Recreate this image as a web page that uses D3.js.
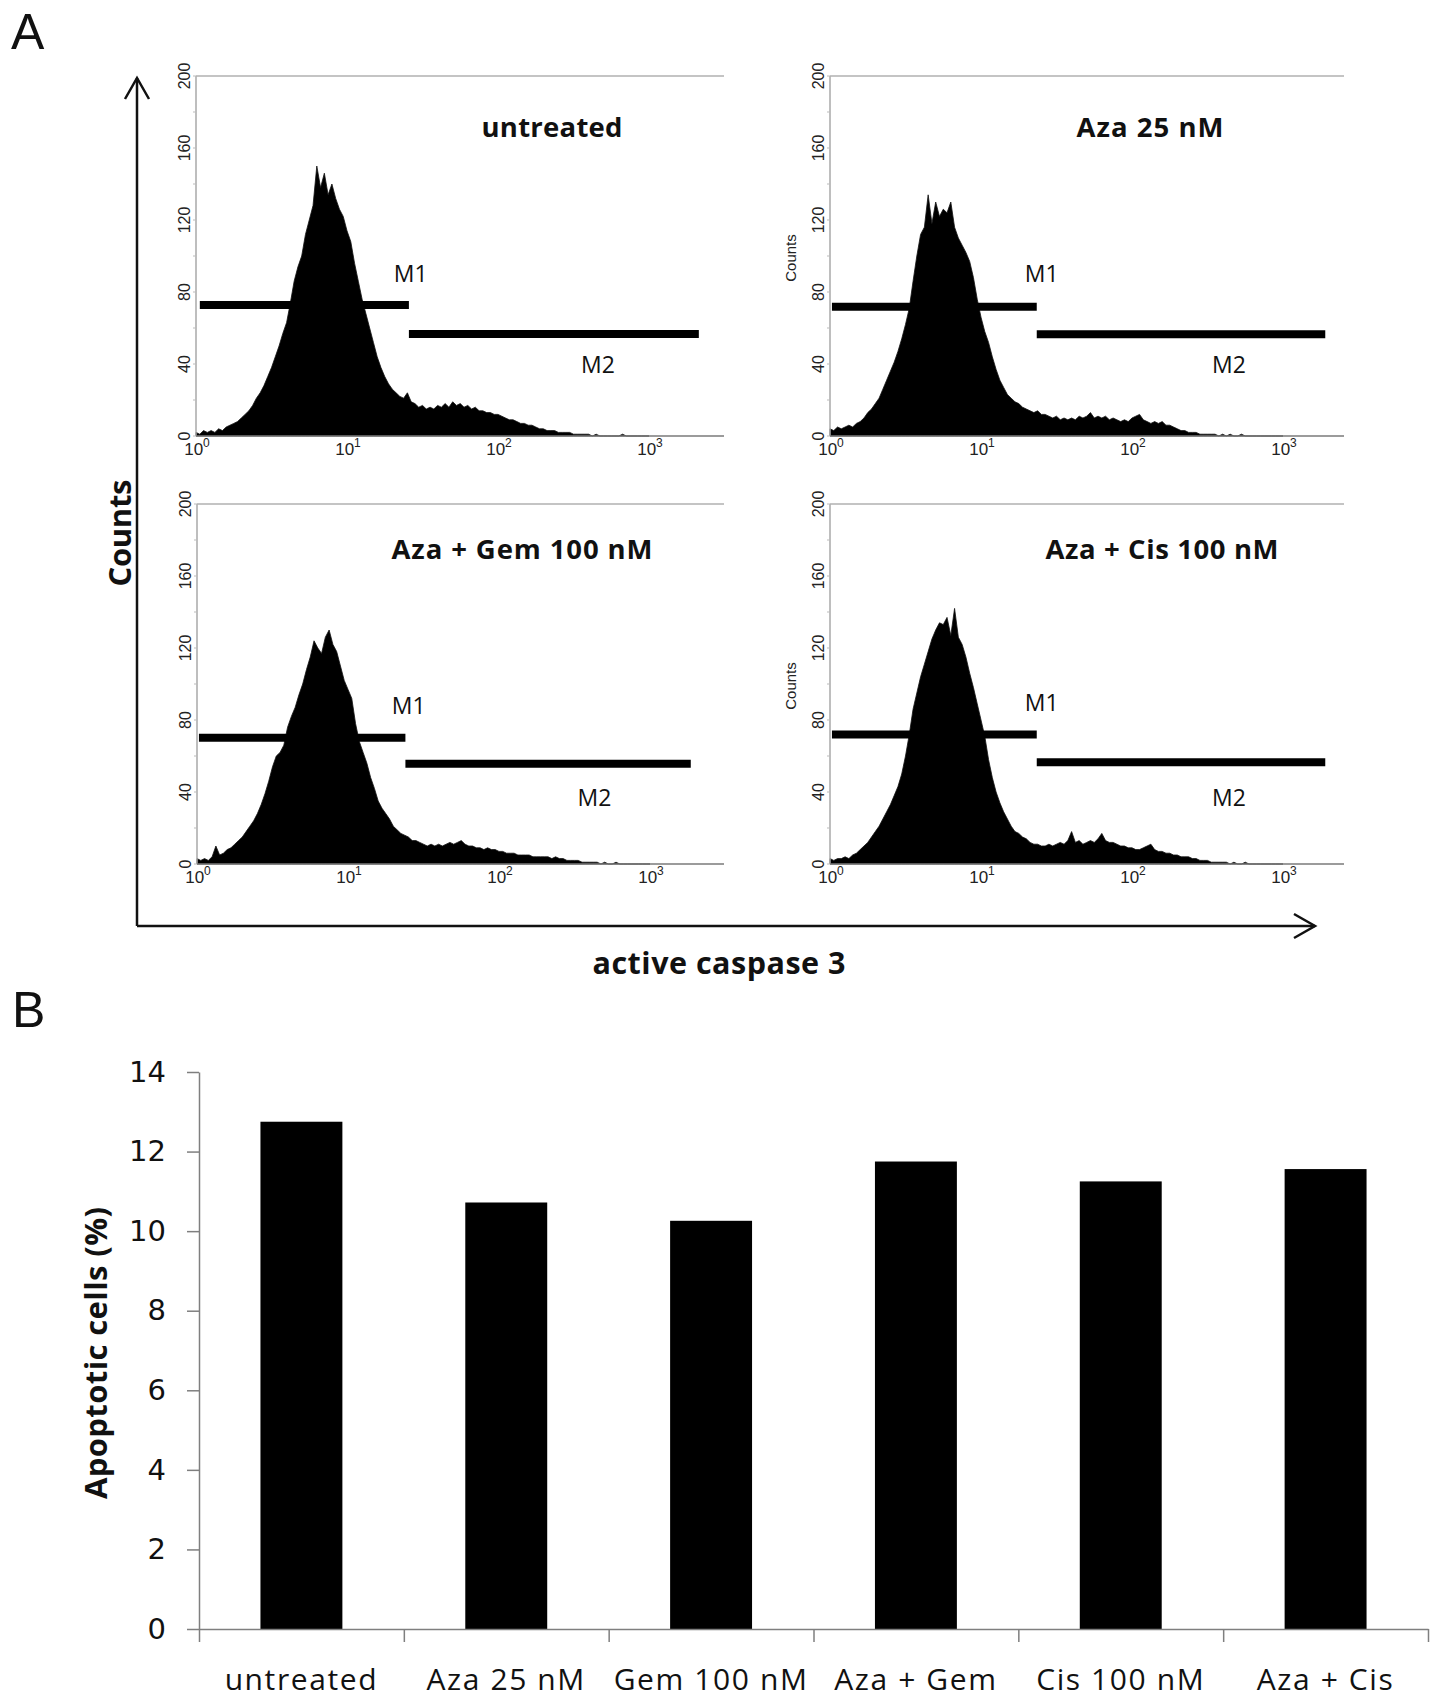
<!DOCTYPE html>
<html>
<head>
<meta charset="utf-8">
<script src="https://cdn.jsdelivr.net/npm/d3@7"></script>
<style>
  html, body { margin: 0; padding: 0; background: #fff; }
  svg { display: block; }
</style>
</head>
<body>
<svg id="chart" width="1441" height="1703"></svg>
<script>
// ---------------- DATA ----------------
// Flow cytometry histograms: counts per channel, channels spaced 0.025 decades from 10^0
const binStepLog = 0.025;
const panelTitles = ["untreated", "Aza 25 nM", "Aza + Gem 100 nM", "Aza + Cis 100 nM"];

const countsUntreated = [
  2,1,3,2,3,2,4,3,5,6,
  7,8,10,12,14,17,21,24,28,33,
  38,44,50,57,63,74,86,94,100,112,
  120,128,150,138,146,134,140,132,126,122,
  114,108,96,86,76,68,60,52,44,38,
  33,29,26,24,22,21,24,19,18,16,
  17,15,16,15,17,16,18,16,19,17,
  18,16,17,15,16,14,14,13,13,12,
  12,11,10,9,9,8,7,7,6,6,
  5,4,4,3,3,3,2,2,2,2,
  1,1,1,1,1,0,1,0,0,0,
  0,0,0,1,0,0,0,0,0,0,
  0
];
const countsAza25 = [
  4,3,5,4,5,6,5,7,8,10,
  13,15,18,21,26,31,36,41,47,54,
  62,71,86,100,112,116,134,118,130,122,
  126,124,130,116,110,106,102,97,88,76,
  66,58,52,44,37,31,27,23,21,19,
  18,16,15,14,13,14,12,12,11,10,
  11,9,10,9,10,9,11,10,11,13,
  10,11,10,11,9,10,9,8,9,8,
  10,11,12,9,8,7,8,7,8,6,
  6,5,4,3,3,2,2,2,1,1,
  1,1,1,0,1,0,1,0,0,1,
  0,0,0,0,0,0,0,0,0,0,
  0
];
const countsAzaGem = [
  3,2,3,2,4,10,5,6,8,9,
  11,13,15,18,21,24,28,33,39,46,
  54,60,62,66,76,82,87,94,100,108,
  115,124,120,117,126,130,122,118,110,102,
  97,92,78,68,62,56,48,42,35,31,
  28,25,21,19,17,16,15,13,13,12,
  11,10,11,10,11,10,11,12,11,12,
  13,11,10,10,9,9,8,9,8,8,
  7,7,6,6,6,5,5,5,5,4,
  4,4,4,4,3,4,3,3,2,2,
  2,2,1,1,1,1,1,0,1,0,
  0,1,0,0,0,0,0,0,0,0,
  0
];
const countsAzaCis = [
  3,2,3,3,4,3,5,6,8,10,
  12,15,18,21,25,29,33,38,43,50,
  60,72,86,95,104,111,118,125,130,134,
  133,137,127,142,126,122,115,106,98,89,
  80,71,58,48,40,34,29,25,21,18,
  17,15,14,12,11,11,10,10,11,10,
  11,12,11,13,18,12,13,11,12,13,
  12,14,17,13,12,12,11,10,10,9,
  9,8,8,9,10,11,8,7,7,6,
  6,5,5,4,4,4,3,3,2,2,
  2,1,1,1,1,1,0,1,0,0,
  1,0,0,0,0,0,0,0,0,0,
  0
];
const histCounts = [countsUntreated, countsAza25, countsAzaGem, countsAzaCis];

// Marker gates (fluorescence from, to, count level)
const gateM1 = [[1.06, 25.7, 72.8], [1.03, 23.4, 71.8], [1.03, 24.0, 70.2], [1.03, 23.4, 72.0]];
const gateM2 = [[25.7, 2138, 56.7], [23.4, 1905, 56.5], [24.0, 1862, 55.7], [23.4, 1905, 56.5]];
// Gate label anchors (fluorescence, count)
const labelM1 = [[20.4, 85.7], [19.5, 85.7], [19.5, 83.3], [19.5, 85.0]];
const labelM2 = [[355, 35], [339, 35], [331, 32], [339, 32]];

const histYTicks = [0, 40, 80, 120, 160, 200];
const histXTicks = [1, 10, 100, 1000];
const histXExp = ["0", "1", "2", "3"];

// Bar chart
const barCategories = ["untreated", "Aza 25 nM", "Gem 100 nM", "Aza + Gem", "Cis 100 nM", "Aza + Cis"];
const barValues = [12.75, 10.72, 10.26, 11.75, 11.25, 11.56];
const barYTicks = [0, 2, 4, 6, 8, 10, 12, 14];

// ---------------- LAYOUT ----------------
const svg = d3.select("#chart");
svg.append("rect").attr("width", 1441).attr("height", 1703).attr("fill", "#fff");

const decadePx = 151;
const panelBoxes = [
  { x0: 196, w: 528, top: 76,  bottom: 436, title: [552, 137, 141], counts: false },
  { x0: 830, w: 514, top: 76,  bottom: 436, title: [1150, 137, 147], counts: true },
  { x0: 197, w: 527, top: 504, bottom: 864, title: [522, 559, 261], counts: false },
  { x0: 830, w: 514, top: 504, bottom: 864, title: [1162, 559, 233], counts: true }
];

const sans = "'Open Sans', 'DejaVu Sans', sans-serif";
const arial = "'Liberation Sans', Arial, sans-serif";

panelBoxes.forEach((p, k) => {
  const g = svg.append("g");
  const x = d3.scaleLog().domain([1, Math.pow(10, p.w / decadePx)]).range([p.x0, p.x0 + p.w]);
  const y = d3.scaleLinear().domain([0, 200]).range([p.bottom, p.top]);

  // histogram area
  const data = histCounts[k];
  const area = d3.area()
    .x((d, i) => x(Math.pow(10, i * binStepLog)))
    .y0(y(0))
    .y1(d => y(d))
    .curve(d3.curveLinear);
  g.append("path").datum(data).attr("d", area).attr("fill", "#000")
    .attr("stroke", "#111").attr("stroke-width", 0.8).attr("stroke-linejoin", "miter");

  // frame lines: left axis, top line, bottom axis
  g.append("line").attr("x1", x(1)).attr("x2", x(1)).attr("y1", y(200)).attr("y2", y(0))
    .attr("stroke", "#a8a8a8").attr("stroke-width", 1.5);
  g.append("line").attr("x1", x(1)).attr("x2", p.x0 + p.w).attr("y1", y(200)).attr("y2", y(200))
    .attr("stroke", "#b0b0b0").attr("stroke-width", 1.5);
  g.append("line").attr("x1", x(1)).attr("x2", p.x0 + p.w).attr("y1", y(0)).attr("y2", y(0))
    .attr("stroke", "#7a7a7a").attr("stroke-width", 1.6);

  // minor ticks on left axis
  d3.range(0, 201, 20).forEach(v => {
    g.append("line").attr("x1", x(1) - 3).attr("x2", x(1)).attr("y1", y(v)).attr("y2", y(v))
      .attr("stroke", "#bbb").attr("stroke-width", 1);
  });

  // y tick labels (rotated)
  histYTicks.forEach(v => {
    g.append("text")
      .attr("transform", `translate(${x(1) - 12},${y(v)}) rotate(-90)`)
      .attr("text-anchor", "middle").attr("dy", "0.35em")
      .attr("font-family", arial).attr("font-size", 16).attr("fill", "#222")
      .text(v);
  });

  // x tick labels 10^n
  histXTicks.forEach((v, i) => {
    const t = g.append("text")
      .attr("x", x(v) + 1).attr("y", p.bottom + 19)
      .attr("text-anchor", "middle")
      .attr("font-family", arial).attr("font-size", 17).attr("fill", "#222");
    t.append("tspan").text("10");
    t.append("tspan").attr("dy", -8).attr("font-size", 12).text(histXExp[i]);
  });

  // gates
  [gateM1[k], gateM2[k]].forEach(gt => {
    g.append("line").attr("x1", x(gt[0])).attr("x2", x(gt[1]))
      .attr("y1", y(gt[2])).attr("y2", y(gt[2]))
      .attr("stroke", "#000").attr("stroke-width", 8);
  });
  g.append("text").attr("x", x(labelM1[k][0])).attr("y", y(labelM1[k][1]))
    .attr("font-family", sans).attr("font-size", 23).attr("fill", "#111").text("M1");
  g.append("text").attr("x", x(labelM2[k][0])).attr("y", y(labelM2[k][1]))
    .attr("font-family", sans).attr("font-size", 23).attr("fill", "#111").text("M2");

  // title
  g.append("text").attr("x", p.title[0]).attr("y", p.title[1])
    .attr("text-anchor", "middle")
    .attr("font-family", sans).attr("font-weight", 700).attr("font-size", 27.5)
    .attr("textLength", p.title[2]).attr("lengthAdjust", "spacing")
    .attr("fill", "#111").text(panelTitles[k]);

  if (p.counts) {
    g.append("text")
      .attr("transform", `translate(${p.x0 - 39},${p.top + 182}) rotate(-90)`)
      .attr("text-anchor", "middle").attr("dy", "0.35em")
      .attr("font-family", arial).attr("font-size", 15).attr("fill", "#222")
      .text("Counts");
  }
});

// big arrows
const arrowColor = "#111";
const ax = 137, ayTop = 78, ayBot = 926, axRight = 1315;
svg.append("line").attr("x1", ax).attr("x2", ax).attr("y1", ayBot).attr("y2", ayTop)
  .attr("stroke", arrowColor).attr("stroke-width", 2.5);
svg.append("path").attr("d", `M${ax - 12},${ayTop + 21} L${ax},${ayTop} L${ax + 12},${ayTop + 21}`)
  .attr("fill", "none").attr("stroke", arrowColor).attr("stroke-width", 2.5);
svg.append("line").attr("x1", ax).attr("x2", axRight).attr("y1", ayBot).attr("y2", ayBot)
  .attr("stroke", arrowColor).attr("stroke-width", 2.5);
svg.append("path").attr("d", `M${axRight - 21},${ayBot - 12} L${axRight},${ayBot} L${axRight - 21},${ayBot + 12}`)
  .attr("fill", "none").attr("stroke", arrowColor).attr("stroke-width", 2.5);

svg.append("text")
  .attr("transform", `translate(120,533) rotate(-90)`)
  .attr("text-anchor", "middle").attr("dy", "0.36em")
  .attr("font-family", sans).attr("font-weight", 700).attr("font-size", 31)
  .attr("textLength", 107).attr("lengthAdjust", "spacing")
  .attr("fill", "#111").text("Counts");
svg.append("text").attr("x", 719).attr("y", 974).attr("text-anchor", "middle")
  .attr("font-family", sans).attr("font-weight", 700).attr("font-size", 30.5)
  .attr("textLength", 253).attr("lengthAdjust", "spacing")
  .attr("fill", "#111").text("active caspase 3");

// panel letters
svg.append("text").attr("x", 11).attr("y", 49).attr("font-family", arial)
  .attr("font-size", 50).attr("fill", "#111").text("A");
svg.append("text").attr("x", 12).attr("y", 1027).attr("font-family", arial)
  .attr("font-size", 50).attr("fill", "#111").text("B");

// ---------------- BAR CHART ----------------
const bx0 = 199, bx1 = 1428, by0 = 1629, by1 = 1072;
const bxBand = d3.scaleBand().domain(barCategories).range([bx0, bx1]).padding(0);
const bxIdx = d3.scaleLinear().domain([0, barCategories.length]).range([bx0, bx1]);
const by = d3.scaleLinear().domain([0, 14]).range([by0, by1]);
const axisColor = "#7f7f7f";

const bars = svg.append("g");
const barW = bxBand.bandwidth() * 0.4;
bars.selectAll("rect").data(barValues).enter().append("rect")
  .attr("x", (d, i) => bxBand(barCategories[i]) + (bxBand.bandwidth() - barW) / 2)
  .attr("width", barW)
  .attr("y", d => by(d))
  .attr("height", d => by(0) - by(d))
  .attr("fill", "#000");

const yAxisG = svg.append("g").attr("transform", `translate(${bx0},0)`)
  .call(d3.axisLeft(by).tickValues(barYTicks).tickSize(12).tickSizeOuter(0).tickPadding(21).tickFormat(d3.format("d")));
yAxisG.select(".domain").attr("stroke", axisColor).attr("stroke-width", 1.5);
yAxisG.selectAll(".tick line").attr("stroke", axisColor).attr("stroke-width", 1.5);
yAxisG.selectAll(".tick text").attr("font-family", "'DejaVu Sans', sans-serif")
  .attr("font-size", 29).attr("fill", "#111");

const xAxisG = svg.append("g").attr("transform", `translate(0,${by0})`)
  .call(d3.axisBottom(bxIdx).tickValues(d3.range(0, barCategories.length + 1)).tickSize(13).tickSizeOuter(0).tickFormat(""));
xAxisG.select(".domain").attr("stroke", axisColor).attr("stroke-width", 1.5);
xAxisG.selectAll(".tick line").attr("stroke", axisColor).attr("stroke-width", 1.5);

svg.append("g").selectAll("text").data(barCategories).enter().append("text")
  .attr("x", d => bxBand(d) + bxBand.bandwidth() / 2)
  .attr("y", 1690)
  .attr("text-anchor", "middle")
  .attr("font-family", sans).attr("font-size", 30).attr("letter-spacing", 1.6)
  .attr("fill", "#111").text(d => d);

svg.append("text")
  .attr("transform", `translate(96,1353) rotate(-90)`)
  .attr("text-anchor", "middle").attr("dy", "0.36em")
  .attr("font-family", sans).attr("font-weight", 700).attr("font-size", 31)
  .attr("textLength", 292).attr("lengthAdjust", "spacing")
  .attr("fill", "#111").text("Apoptotic cells (%)");
</script>
</body>
</html>
